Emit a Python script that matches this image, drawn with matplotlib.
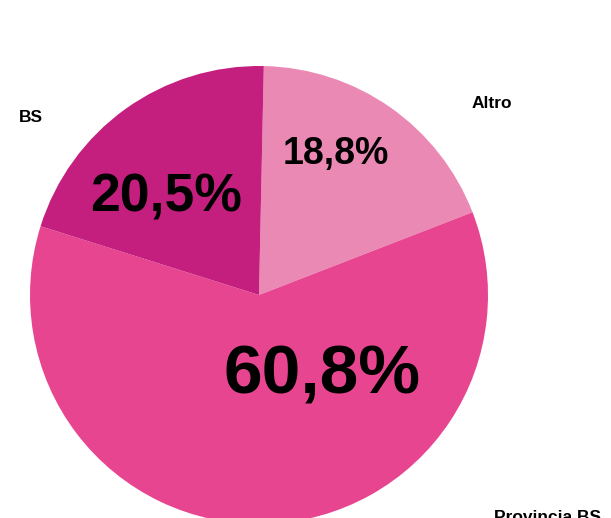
import matplotlib
matplotlib.use("Agg")
import matplotlib.pyplot as plt

categories = ["Altro", "Provincia BS", "BS"]
values = [18.8, 60.8, 20.5]
pct_labels = ["18,8%", "60,8%", "20,5%"]
colors = ["#EB89B5", "#E84590", "#C41F7E"]

W, H = 611, 518
fig = plt.figure(figsize=(W / 100, H / 100), dpi=100)
ax = fig.add_axes([0, 0, 1, 1])

cx, cy, r = 259, H - 295, 229
ax.pie(values, colors=colors, startangle=88.8, counterclock=False,
       center=(cx, cy), radius=r, frame=True,
       wedgeprops=dict(linewidth=0))
ax.set_xlim(0, W)
ax.set_ylim(0, H)
ax.set_aspect("equal")
ax.axis("off")

pct_pos = [(336, 154), (322, 376), (166, 198)]
pct_sizes = [27, 50, 38.5]
for lab, (x, y), s in zip(pct_labels, pct_pos, pct_sizes):
    ax.text(x, H - y, lab, ha="center", va="center", fontsize=s,
            fontweight="bold", family=["Liberation Sans", "DejaVu Sans"], color="black")

cat_pos = [(492, 104), (548, 517), (31, 117)]
for lab, (x, y) in zip(categories, cat_pos):
    ax.text(x, H - y, lab, ha="center", va="center", fontsize=12.5,
            fontweight="bold", family=["Liberation Sans", "DejaVu Sans"], color="black")

fig.savefig("out.png", dpi=100)
